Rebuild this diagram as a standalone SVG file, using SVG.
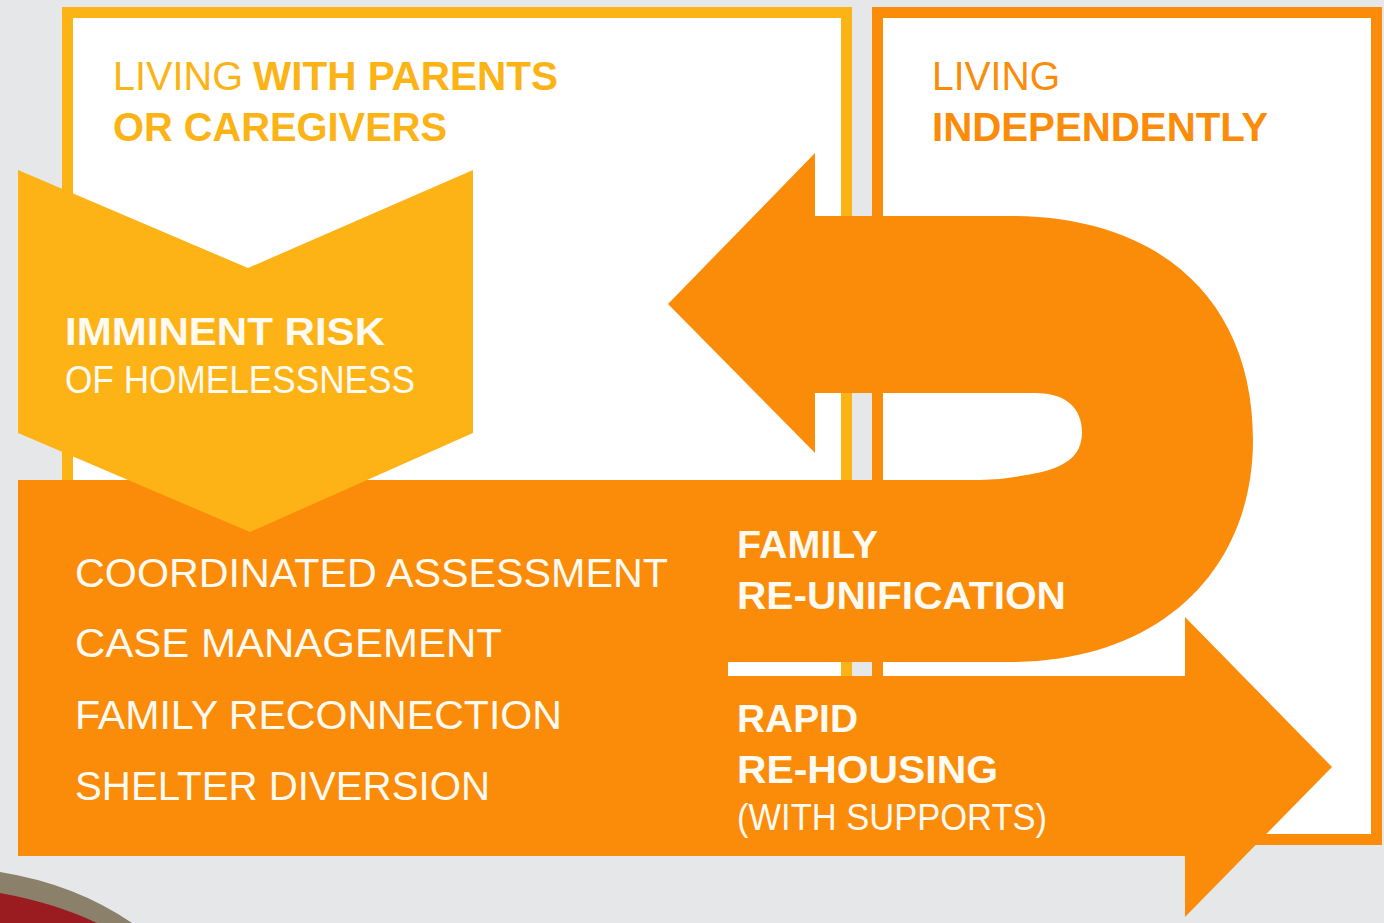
<svg xmlns="http://www.w3.org/2000/svg" width="1384" height="923" viewBox="0 0 1384 923">
<style>
.t{font-family:"Liberation Sans",Arial,Helvetica,sans-serif;}
.b{font-weight:bold;}
.y{fill:#fbb316;}
.o{fill:#fb8c0a;}
.w{fill:#fffaf2;}
</style>
<rect x="0" y="0" width="1384" height="923" fill="#e6e7e9"/>
<g id="box-parents">
<rect x="67.5" y="12.5" width="779" height="800" fill="#ffffff" stroke="#fbb316" stroke-width="11"/>
<text class="t y" x="113" y="90" font-size="40" textLength="130" lengthAdjust="spacingAndGlyphs">LIVING</text>
<text class="t b y" x="253" y="90" font-size="40" textLength="305" lengthAdjust="spacingAndGlyphs">WITH PARENTS</text>
<text class="t b y" x="113" y="141" font-size="40" textLength="334" lengthAdjust="spacingAndGlyphs">OR CAREGIVERS</text>
</g>
<g id="box-independent">
<rect x="877.5" y="12.5" width="499" height="827" fill="#ffffff" stroke="#fb8c0a" stroke-width="11"/>
<text class="t o" x="932" y="90" font-size="40" textLength="128" lengthAdjust="spacingAndGlyphs">LIVING</text>
<text class="t b o" x="932" y="141" font-size="40" textLength="336" lengthAdjust="spacingAndGlyphs">INDEPENDENTLY</text>
</g>
<g id="connectors">
<path id="band-rehousing" d="M18,480 H728 V676 H1185 V617 L1332,767 L1185,917 V856 H18 Z" fill="#fb8c0a"/>
<path id="reunification-arrow" d="M815,153 L668,304 L815,453 L815,393 L1035,393 C1068,393 1082,410 1082,432 C1082,456 1066,470 1020,476 Q1000,480 980,480 L728,480 L728,662 L1010,662 C1160,662 1253,570 1253,440 C1253,300 1160,216 1010,216 L815,216 Z" fill="#fb8c0a"/>
</g>
<g id="band-services">
<text class="t w" x="75" y="587" font-size="40" textLength="593" lengthAdjust="spacingAndGlyphs">COORDINATED ASSESSMENT</text>
<text class="t w" x="75" y="657" font-size="40" textLength="427" lengthAdjust="spacingAndGlyphs">CASE MANAGEMENT</text>
<text class="t w" x="75" y="729" font-size="40" textLength="487" lengthAdjust="spacingAndGlyphs">FAMILY RECONNECTION</text>
<text class="t w" x="75" y="800" font-size="40" textLength="415" lengthAdjust="spacingAndGlyphs">SHELTER DIVERSION</text>
</g>
<g id="family-reunification">
<text class="t b w" x="737" y="558" font-size="39" textLength="141" lengthAdjust="spacingAndGlyphs">FAMILY</text>
<text class="t b w" x="737" y="609" font-size="39" textLength="329" lengthAdjust="spacingAndGlyphs">RE-UNIFICATION</text>
</g>
<g id="rapid-rehousing">
<text class="t b w" x="737" y="732" font-size="38" textLength="121" lengthAdjust="spacingAndGlyphs">RAPID</text>
<text class="t b w" x="737" y="783" font-size="38" textLength="261" lengthAdjust="spacingAndGlyphs">RE-HOUSING</text>
<text class="t w" x="737" y="830" font-size="37" textLength="310" lengthAdjust="spacingAndGlyphs">(WITH SUPPORTS)</text>
</g>
<g id="imminent-risk">
<path d="M18,170 L248,268 L473,170 L473,433 L250,532 L18,433 Z" fill="#fdb316"/>
<text class="t b w" x="65" y="345" font-size="38" textLength="320" lengthAdjust="spacingAndGlyphs">IMMINENT RISK</text>
<text class="t w" x="65" y="393" font-size="38" textLength="350" lengthAdjust="spacingAndGlyphs">OF HOMELESSNESS</text>
</g>
<g id="corner-seal">
<path d="M0,872 Q75,884 132,923 L0,923 Z" fill="#8b806a"/>
<path d="M0,893 Q55,903 97,923 L0,923 Z" fill="#9b1c20"/>
</g>
</svg>
